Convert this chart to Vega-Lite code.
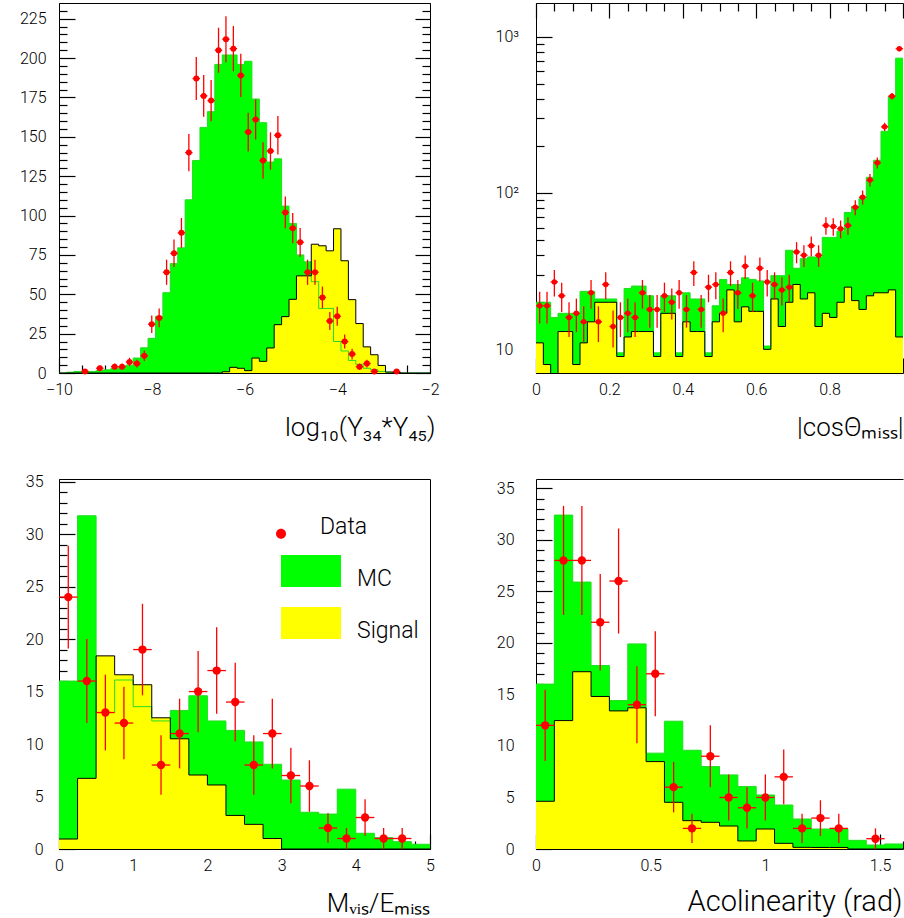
{
"$schema": "https://vega.github.io/schema/vega-lite/v6.json",
"padding": {"left": 18, "top": 2, "right": 0, "bottom": 0},
"background": "white",
"columns": 2,
"spacing": {"row": 106, "column": 106},
"bounds": "flush",
"resolve": {"scale": {"color": "independent", "shape": "independent"}, "legend": {"color": "independent", "shape": "independent"}},
"config": {
  "font": "Roboto",
  "view": {"stroke": "#000", "strokeWidth": 1},
  "axis": {"grid": false, "labelFont": "Roboto", "labelFontWeight": 300, "labelFontSize": 16, "labelColor": "#000", "tickColor": "#000", "tickWidth": 1.2, "domainColor": "#000", "domainWidth": 1, "labelFlush": false, "labelOverlap": false, "titleFont": "Roboto", "titleFontWeight": 300, "titleFontSize": 26, "titleColor": "#000", "titleAnchor": "end", "titlePadding": 10}
},
"datasets": {
  "p1h": [
    {"x": -10, "mc": 0, "sig": 0}, {"x": -9.84, "mc": 0.5, "sig": 0}, {"x": -9.68, "mc": 1, "sig": 0}, {"x": -9.52, "mc": 1, "sig": 0},
    {"x": -9.36, "mc": 1, "sig": 0}, {"x": -9.2, "mc": 1.5, "sig": 0}, {"x": -9.04, "mc": 2, "sig": 0}, {"x": -8.88, "mc": 3, "sig": 0},
    {"x": -8.72, "mc": 4, "sig": 0}, {"x": -8.56, "mc": 5, "sig": 0}, {"x": -8.4, "mc": 9.5, "sig": 0}, {"x": -8.24, "mc": 16, "sig": 0},
    {"x": -8.08, "mc": 22, "sig": 0}, {"x": -7.92, "mc": 36, "sig": 0}, {"x": -7.76, "mc": 51, "sig": 0}, {"x": -7.6, "mc": 69.5, "sig": 0},
    {"x": -7.44, "mc": 79.5, "sig": 0}, {"x": -7.28, "mc": 110, "sig": 0}, {"x": -7.12, "mc": 135, "sig": 0}, {"x": -6.96, "mc": 156, "sig": 0},
    {"x": -6.8, "mc": 166, "sig": 0}, {"x": -6.64, "mc": 196, "sig": 0}, {"x": -6.48, "mc": 202, "sig": 0.8}, {"x": -6.32, "mc": 202, "sig": 3.6},
    {"x": -6.16, "mc": 196, "sig": 3}, {"x": -6.0, "mc": 198, "sig": 1.5}, {"x": -5.84, "mc": 174, "sig": 9.5}, {"x": -5.68, "mc": 159, "sig": 7.4},
    {"x": -5.52, "mc": 134, "sig": 15.9}, {"x": -5.36, "mc": 136, "sig": 30.7}, {"x": -5.2, "mc": 106, "sig": 35.8}, {"x": -5.04, "mc": 95, "sig": 46.8},
    {"x": -4.88, "mc": 75, "sig": 61.7}, {"x": -4.72, "mc": 70.6, "sig": 61.7}, {"x": -4.56, "mc": 58, "sig": 81.8}, {"x": -4.4, "mc": 41, "sig": 80.8},
    {"x": -4.24, "mc": 41, "sig": 77.6}, {"x": -4.08, "mc": 20, "sig": 91.6}, {"x": -3.92, "mc": 14, "sig": 71.3}, {"x": -3.76, "mc": 8, "sig": 46.6},
    {"x": -3.6, "mc": 5.5, "sig": 31.4}, {"x": -3.44, "mc": 3, "sig": 16.6}, {"x": -3.28, "mc": 2, "sig": 11.6}, {"x": -3.12, "mc": 1, "sig": 4.8},
    {"x": -2.96, "mc": 0.5, "sig": 0.6}, {"x": -2.8, "mc": 0.3, "sig": 0.3}, {"x": -2.64, "mc": 0, "sig": 0}, {"x": -2.48, "mc": 0, "sig": 0},
    {"x": -2.32, "mc": 0, "sig": 0}, {"x": -2.16, "mc": 0, "sig": 0}, {"x": -2.0, "mc": 0, "sig": 0}
  ],
  "p1d": [
    {"c": -9.44, "lo": -9.52, "hi": -9.36, "v": 1, "elo": 0, "ehi": 2},
    {"c": -9.12, "lo": -9.2, "hi": -9.04, "v": 3, "elo": 1.27, "ehi": 4.73},
    {"c": -8.8, "lo": -8.88, "hi": -8.72, "v": 4, "elo": 2, "ehi": 6},
    {"c": -8.64, "lo": -8.72, "hi": -8.56, "v": 4, "elo": 2, "ehi": 6},
    {"c": -8.48, "lo": -8.56, "hi": -8.4, "v": 7, "elo": 4.35, "ehi": 9.65},
    {"c": -8.32, "lo": -8.4, "hi": -8.24, "v": 6, "elo": 3.55, "ehi": 8.45},
    {"c": -8.16, "lo": -8.24, "hi": -8.08, "v": 11, "elo": 7.68, "ehi": 14.32},
    {"c": -8.0, "lo": -8.08, "hi": -7.92, "v": 31, "elo": 25.43, "ehi": 36.57},
    {"c": -7.84, "lo": -7.92, "hi": -7.76, "v": 35, "elo": 29.08, "ehi": 40.92},
    {"c": -7.68, "lo": -7.76, "hi": -7.6, "v": 64, "elo": 56, "ehi": 72},
    {"c": -7.52, "lo": -7.6, "hi": -7.44, "v": 76, "elo": 67.28, "ehi": 84.72},
    {"c": -7.36, "lo": -7.44, "hi": -7.28, "v": 89, "elo": 79.57, "ehi": 98.43},
    {"c": -7.2, "lo": -7.28, "hi": -7.12, "v": 140, "elo": 128.17, "ehi": 151.83},
    {"c": -7.04, "lo": -7.12, "hi": -6.96, "v": 187, "elo": 173.33, "ehi": 200.67},
    {"c": -6.88, "lo": -6.96, "hi": -6.8, "v": 176, "elo": 162.73, "ehi": 189.27},
    {"c": -6.72, "lo": -6.8, "hi": -6.64, "v": 173, "elo": 159.85, "ehi": 186.15},
    {"c": -6.56, "lo": -6.64, "hi": -6.48, "v": 205, "elo": 190.68, "ehi": 219.32},
    {"c": -6.4, "lo": -6.48, "hi": -6.32, "v": 212, "elo": 197.44, "ehi": 226.56},
    {"c": -6.24, "lo": -6.32, "hi": -6.16, "v": 206, "elo": 191.65, "ehi": 220.35},
    {"c": -6.08, "lo": -6.16, "hi": -6.0, "v": 189, "elo": 175.25, "ehi": 202.75},
    {"c": -5.92, "lo": -6.0, "hi": -5.84, "v": 153, "elo": 140.63, "ehi": 165.37},
    {"c": -5.76, "lo": -5.84, "hi": -5.68, "v": 161, "elo": 148.31, "ehi": 173.69},
    {"c": -5.6, "lo": -5.68, "hi": -5.52, "v": 135, "elo": 123.38, "ehi": 146.62},
    {"c": -5.44, "lo": -5.52, "hi": -5.36, "v": 141, "elo": 129.13, "ehi": 152.87},
    {"c": -5.28, "lo": -5.36, "hi": -5.2, "v": 151, "elo": 138.71, "ehi": 163.29},
    {"c": -5.12, "lo": -5.2, "hi": -5.04, "v": 102, "elo": 91.9, "ehi": 112.1},
    {"c": -4.96, "lo": -5.04, "hi": -4.88, "v": 92, "elo": 82.41, "ehi": 101.59},
    {"c": -4.8, "lo": -4.88, "hi": -4.72, "v": 83, "elo": 73.89, "ehi": 92.11},
    {"c": -4.64, "lo": -4.72, "hi": -4.56, "v": 64, "elo": 56, "ehi": 72},
    {"c": -4.48, "lo": -4.56, "hi": -4.4, "v": 64, "elo": 56, "ehi": 72},
    {"c": -4.32, "lo": -4.4, "hi": -4.24, "v": 48, "elo": 41.07, "ehi": 54.93},
    {"c": -4.16, "lo": -4.24, "hi": -4.08, "v": 33, "elo": 27.26, "ehi": 38.74},
    {"c": -4.0, "lo": -4.08, "hi": -3.92, "v": 36, "elo": 30, "ehi": 42},
    {"c": -3.84, "lo": -3.92, "hi": -3.76, "v": 20, "elo": 15.53, "ehi": 24.47},
    {"c": -3.68, "lo": -3.76, "hi": -3.6, "v": 12, "elo": 8.54, "ehi": 15.46},
    {"c": -3.52, "lo": -3.6, "hi": -3.44, "v": 4, "elo": 2, "ehi": 6},
    {"c": -3.36, "lo": -3.44, "hi": -3.28, "v": 6, "elo": 3.55, "ehi": 8.45},
    {"c": -3.2, "lo": -3.28, "hi": -3.12, "v": 1, "elo": 0, "ehi": 2},
    {"c": -2.72, "lo": -2.8, "hi": -2.64, "v": 1, "elo": 0, "ehi": 2}
  ],
  "p2h": [
    {"x": 0, "mc": 20, "sig": 11}, {"x": 0.02, "mc": 20, "sig": 8}, {"x": 0.04, "mc": 16, "sig": 1}, {"x": 0.06, "mc": 17, "sig": 13},
    {"x": 0.08, "mc": 17, "sig": 13}, {"x": 0.1, "mc": 17, "sig": 8}, {"x": 0.12, "mc": 23.5, "sig": 11}, {"x": 0.14, "mc": 23.5, "sig": 15},
    {"x": 0.16, "mc": 21, "sig": 20}, {"x": 0.18, "mc": 21, "sig": 20}, {"x": 0.2, "mc": 21, "sig": 20}, {"x": 0.22, "mc": 9.5, "sig": 9},
    {"x": 0.24, "mc": 24.5, "sig": 12}, {"x": 0.26, "mc": 25.4, "sig": 13}, {"x": 0.28, "mc": 25.4, "sig": 13}, {"x": 0.3, "mc": 22, "sig": 13},
    {"x": 0.32, "mc": 9.5, "sig": 9}, {"x": 0.34, "mc": 22, "sig": 17}, {"x": 0.36, "mc": 22, "sig": 17}, {"x": 0.38, "mc": 9.5, "sig": 9},
    {"x": 0.4, "mc": 23, "sig": 15}, {"x": 0.42, "mc": 21, "sig": 13}, {"x": 0.44, "mc": 21, "sig": 13}, {"x": 0.46, "mc": 9.5, "sig": 9},
    {"x": 0.48, "mc": 19, "sig": 15}, {"x": 0.5, "mc": 28, "sig": 17}, {"x": 0.52, "mc": 26, "sig": 24}, {"x": 0.54, "mc": 26, "sig": 15},
    {"x": 0.56, "mc": 28.7, "sig": 18.7}, {"x": 0.58, "mc": 28, "sig": 17.5}, {"x": 0.6, "mc": 27.4, "sig": 17.5}, {"x": 0.62, "mc": 10.5, "sig": 10},
    {"x": 0.64, "mc": 29.6, "sig": 21}, {"x": 0.66, "mc": 29.6, "sig": 14}, {"x": 0.68, "mc": 43, "sig": 20}, {"x": 0.7, "mc": 33, "sig": 26},
    {"x": 0.72, "mc": 38, "sig": 21}, {"x": 0.74, "mc": 39, "sig": 23}, {"x": 0.76, "mc": 39, "sig": 14}, {"x": 0.78, "mc": 52, "sig": 17},
    {"x": 0.8, "mc": 52, "sig": 16}, {"x": 0.82, "mc": 57, "sig": 20}, {"x": 0.84, "mc": 75, "sig": 25}, {"x": 0.86, "mc": 82, "sig": 20.5},
    {"x": 0.88, "mc": 92, "sig": 18}, {"x": 0.9, "mc": 126, "sig": 22}, {"x": 0.92, "mc": 162, "sig": 23}, {"x": 0.94, "mc": 248, "sig": 23},
    {"x": 0.96, "mc": 416, "sig": 24}, {"x": 0.98, "mc": 728, "sig": 12}, {"x": 1.0, "mc": 728, "sig": 12}
  ],
  "p2d": [
    {"c": 0.01, "lo": 0, "hi": 0.02, "v": 19, "elo": 14.64, "ehi": 23.36},
    {"c": 0.03, "lo": 0.02, "hi": 0.04, "v": 19, "elo": 14.64, "ehi": 23.36},
    {"c": 0.05, "lo": 0.04, "hi": 0.06, "v": 27, "elo": 21.8, "ehi": 32.2},
    {"c": 0.07, "lo": 0.06, "hi": 0.08, "v": 22, "elo": 17.31, "ehi": 26.69},
    {"c": 0.09, "lo": 0.08, "hi": 0.1, "v": 16, "elo": 12, "ehi": 20},
    {"c": 0.11, "lo": 0.1, "hi": 0.12, "v": 17, "elo": 12.88, "ehi": 21.12},
    {"c": 0.13, "lo": 0.12, "hi": 0.14, "v": 15, "elo": 11.13, "ehi": 18.87},
    {"c": 0.15, "lo": 0.14, "hi": 0.16, "v": 23, "elo": 18.2, "ehi": 27.8},
    {"c": 0.17, "lo": 0.16, "hi": 0.18, "v": 15, "elo": 11.13, "ehi": 18.87},
    {"c": 0.19, "lo": 0.18, "hi": 0.2, "v": 26, "elo": 20.9, "ehi": 31.1},
    {"c": 0.21, "lo": 0.2, "hi": 0.22, "v": 14, "elo": 10.26, "ehi": 17.74},
    {"c": 0.23, "lo": 0.22, "hi": 0.24, "v": 16, "elo": 12, "ehi": 20},
    {"c": 0.25, "lo": 0.24, "hi": 0.26, "v": 17, "elo": 12.88, "ehi": 21.12},
    {"c": 0.27, "lo": 0.26, "hi": 0.28, "v": 16, "elo": 12, "ehi": 20},
    {"c": 0.29, "lo": 0.28, "hi": 0.3, "v": 23, "elo": 18.2, "ehi": 27.8},
    {"c": 0.31, "lo": 0.3, "hi": 0.32, "v": 18, "elo": 13.76, "ehi": 22.24},
    {"c": 0.33, "lo": 0.32, "hi": 0.34, "v": 18, "elo": 13.76, "ehi": 22.24},
    {"c": 0.35, "lo": 0.34, "hi": 0.36, "v": 22, "elo": 17.31, "ehi": 26.69},
    {"c": 0.37, "lo": 0.36, "hi": 0.38, "v": 20, "elo": 15.53, "ehi": 24.47},
    {"c": 0.39, "lo": 0.38, "hi": 0.4, "v": 23, "elo": 18.2, "ehi": 27.8},
    {"c": 0.41, "lo": 0.4, "hi": 0.42, "v": 18, "elo": 13.76, "ehi": 22.24},
    {"c": 0.43, "lo": 0.42, "hi": 0.44, "v": 31, "elo": 25.43, "ehi": 36.57},
    {"c": 0.45, "lo": 0.44, "hi": 0.46, "v": 18, "elo": 13.76, "ehi": 22.24},
    {"c": 0.47, "lo": 0.46, "hi": 0.48, "v": 25, "elo": 20, "ehi": 30},
    {"c": 0.49, "lo": 0.48, "hi": 0.5, "v": 26, "elo": 20.9, "ehi": 31.1},
    {"c": 0.51, "lo": 0.5, "hi": 0.52, "v": 17, "elo": 12.88, "ehi": 21.12},
    {"c": 0.53, "lo": 0.52, "hi": 0.54, "v": 31, "elo": 25.43, "ehi": 36.57},
    {"c": 0.55, "lo": 0.54, "hi": 0.56, "v": 23, "elo": 18.2, "ehi": 27.8},
    {"c": 0.57, "lo": 0.56, "hi": 0.58, "v": 34, "elo": 28.17, "ehi": 39.83},
    {"c": 0.59, "lo": 0.58, "hi": 0.6, "v": 22, "elo": 17.31, "ehi": 26.69},
    {"c": 0.61, "lo": 0.6, "hi": 0.62, "v": 33, "elo": 27.26, "ehi": 38.74},
    {"c": 0.63, "lo": 0.62, "hi": 0.64, "v": 27, "elo": 21.8, "ehi": 32.2},
    {"c": 0.65, "lo": 0.64, "hi": 0.66, "v": 26, "elo": 20.9, "ehi": 31.1},
    {"c": 0.67, "lo": 0.66, "hi": 0.68, "v": 24, "elo": 19.1, "ehi": 28.9},
    {"c": 0.69, "lo": 0.68, "hi": 0.7, "v": 25, "elo": 20, "ehi": 30},
    {"c": 0.71, "lo": 0.7, "hi": 0.72, "v": 42, "elo": 35.52, "ehi": 48.48},
    {"c": 0.73, "lo": 0.72, "hi": 0.74, "v": 40, "elo": 33.68, "ehi": 46.32},
    {"c": 0.75, "lo": 0.74, "hi": 0.76, "v": 46, "elo": 39.22, "ehi": 52.78},
    {"c": 0.77, "lo": 0.76, "hi": 0.78, "v": 40, "elo": 33.68, "ehi": 46.32},
    {"c": 0.79, "lo": 0.78, "hi": 0.8, "v": 62, "elo": 54.13, "ehi": 69.87},
    {"c": 0.81, "lo": 0.8, "hi": 0.82, "v": 61, "elo": 53.19, "ehi": 68.81},
    {"c": 0.83, "lo": 0.82, "hi": 0.84, "v": 59, "elo": 51.32, "ehi": 66.68},
    {"c": 0.85, "lo": 0.84, "hi": 0.86, "v": 62, "elo": 54.13, "ehi": 69.87},
    {"c": 0.87, "lo": 0.86, "hi": 0.88, "v": 81, "elo": 72, "ehi": 90},
    {"c": 0.89, "lo": 0.88, "hi": 0.9, "v": 94, "elo": 84.3, "ehi": 103.7},
    {"c": 0.91, "lo": 0.9, "hi": 0.92, "v": 121, "elo": 110, "ehi": 132},
    {"c": 0.93, "lo": 0.92, "hi": 0.94, "v": 156, "elo": 143.51, "ehi": 168.49},
    {"c": 0.95, "lo": 0.94, "hi": 0.96, "v": 265, "elo": 248.72, "ehi": 281.28},
    {"c": 0.97, "lo": 0.96, "hi": 0.98, "v": 416, "elo": 395.6, "ehi": 436.4},
    {"c": 0.99, "lo": 0.98, "hi": 1.0, "v": 836, "elo": 807.09, "ehi": 864.91}
  ],
  "p3h": [
    {"x": 0, "mc": 16, "sig": 0.95}, {"x": 0.25, "mc": 31.75, "sig": 6.73}, {"x": 0.5, "mc": 13, "sig": 18.4}, {"x": 0.75, "mc": 16.1, "sig": 16.6},
    {"x": 1.0, "mc": 13.56, "sig": 15.65}, {"x": 1.25, "mc": 12.2, "sig": 12.5}, {"x": 1.5, "mc": 13.2, "sig": 10.5}, {"x": 1.75, "mc": 14.6, "sig": 7.05},
    {"x": 2.0, "mc": 12.2, "sig": 6.1}, {"x": 2.25, "mc": 11.3, "sig": 3.2}, {"x": 2.5, "mc": 10.2, "sig": 2.35}, {"x": 2.75, "mc": 8.07, "sig": 1.0},
    {"x": 3.0, "mc": 6.57, "sig": 0}, {"x": 3.25, "mc": 3.5, "sig": 0}, {"x": 3.5, "mc": 3.33, "sig": 0}, {"x": 3.75, "mc": 5.7, "sig": 0},
    {"x": 4.0, "mc": 1.5, "sig": 0}, {"x": 4.25, "mc": 1.08, "sig": 0}, {"x": 4.5, "mc": 0.7, "sig": 0}, {"x": 4.75, "mc": 0.45, "sig": 0},
    {"x": 5.0, "mc": 0.45, "sig": 0}
  ],
  "p3d": [
    {"c": 0.125, "lo": 0, "hi": 0.25, "v": 24, "elo": 19.1, "ehi": 28.9},
    {"c": 0.375, "lo": 0.25, "hi": 0.5, "v": 16, "elo": 12, "ehi": 20},
    {"c": 0.625, "lo": 0.5, "hi": 0.75, "v": 13, "elo": 9.39, "ehi": 16.61},
    {"c": 0.875, "lo": 0.75, "hi": 1.0, "v": 12, "elo": 8.54, "ehi": 15.46},
    {"c": 1.125, "lo": 1.0, "hi": 1.25, "v": 19, "elo": 14.64, "ehi": 23.36},
    {"c": 1.375, "lo": 1.25, "hi": 1.5, "v": 8, "elo": 5.17, "ehi": 10.83},
    {"c": 1.625, "lo": 1.5, "hi": 1.75, "v": 11, "elo": 7.68, "ehi": 14.32},
    {"c": 1.875, "lo": 1.75, "hi": 2.0, "v": 15, "elo": 11.13, "ehi": 18.87},
    {"c": 2.125, "lo": 2.0, "hi": 2.25, "v": 17, "elo": 12.88, "ehi": 21.12},
    {"c": 2.375, "lo": 2.25, "hi": 2.5, "v": 14, "elo": 10.26, "ehi": 17.74},
    {"c": 2.625, "lo": 2.5, "hi": 2.75, "v": 8, "elo": 5.17, "ehi": 10.83},
    {"c": 2.875, "lo": 2.75, "hi": 3.0, "v": 11, "elo": 7.68, "ehi": 14.32},
    {"c": 3.125, "lo": 3.0, "hi": 3.25, "v": 7, "elo": 4.35, "ehi": 9.65},
    {"c": 3.375, "lo": 3.25, "hi": 3.5, "v": 6, "elo": 3.55, "ehi": 8.45},
    {"c": 3.625, "lo": 3.5, "hi": 3.75, "v": 2, "elo": 0.59, "ehi": 3.41},
    {"c": 3.875, "lo": 3.75, "hi": 4.0, "v": 1, "elo": 0, "ehi": 2},
    {"c": 4.125, "lo": 4.0, "hi": 4.25, "v": 3, "elo": 1.27, "ehi": 4.73},
    {"c": 4.375, "lo": 4.25, "hi": 4.5, "v": 1, "elo": 0, "ehi": 2},
    {"c": 4.625, "lo": 4.5, "hi": 4.75, "v": 1, "elo": 0, "ehi": 2}
  ],
  "p4h": [
    {"x": 0, "mc": 16, "sig": 4.63}, {"x": 0.08, "mc": 32.4, "sig": 12.46}, {"x": 0.16, "mc": 25.9, "sig": 17.2}, {"x": 0.24, "mc": 17.8, "sig": 14.8},
    {"x": 0.32, "mc": 14.4, "sig": 13.4}, {"x": 0.4, "mc": 19.9, "sig": 13.7}, {"x": 0.48, "mc": 9.3, "sig": 8.48}, {"x": 0.56, "mc": 12.4, "sig": 4.53},
    {"x": 0.64, "mc": 9.58, "sig": 2.75}, {"x": 0.72, "mc": 8.0, "sig": 2.59}, {"x": 0.8, "mc": 7.19, "sig": 2.23}, {"x": 0.88, "mc": 6.06, "sig": 0.78},
    {"x": 0.96, "mc": 5.24, "sig": 1.94}, {"x": 1.04, "mc": 4.27, "sig": 0.55}, {"x": 1.12, "mc": 2.91, "sig": 0.16}, {"x": 1.2, "mc": 1.94, "sig": 0.15},
    {"x": 1.28, "mc": 1.94, "sig": 0.15}, {"x": 1.36, "mc": 0.84, "sig": 0}, {"x": 1.44, "mc": 0.39, "sig": 0}, {"x": 1.52, "mc": 0.49, "sig": 0},
    {"x": 1.6, "mc": 0.49, "sig": 0}
  ],
  "p4d": [
    {"c": 0.04, "lo": 0, "hi": 0.08, "v": 12, "elo": 8.54, "ehi": 15.46},
    {"c": 0.12, "lo": 0.08, "hi": 0.16, "v": 28, "elo": 22.71, "ehi": 33.29},
    {"c": 0.2, "lo": 0.16, "hi": 0.24, "v": 28, "elo": 22.71, "ehi": 33.29},
    {"c": 0.28, "lo": 0.24, "hi": 0.32, "v": 22, "elo": 17.31, "ehi": 26.69},
    {"c": 0.36, "lo": 0.32, "hi": 0.4, "v": 26, "elo": 20.9, "ehi": 31.1},
    {"c": 0.44, "lo": 0.4, "hi": 0.48, "v": 14, "elo": 10.26, "ehi": 17.74},
    {"c": 0.52, "lo": 0.48, "hi": 0.56, "v": 17, "elo": 12.88, "ehi": 21.12},
    {"c": 0.6, "lo": 0.56, "hi": 0.64, "v": 6, "elo": 3.55, "ehi": 8.45},
    {"c": 0.68, "lo": 0.64, "hi": 0.72, "v": 2, "elo": 0.59, "ehi": 3.41},
    {"c": 0.76, "lo": 0.72, "hi": 0.8, "v": 9, "elo": 6, "ehi": 12},
    {"c": 0.84, "lo": 0.8, "hi": 0.88, "v": 5, "elo": 2.76, "ehi": 7.24},
    {"c": 0.92, "lo": 0.88, "hi": 0.96, "v": 4, "elo": 2, "ehi": 6},
    {"c": 1.0, "lo": 0.96, "hi": 1.04, "v": 5, "elo": 2.76, "ehi": 7.24},
    {"c": 1.08, "lo": 1.04, "hi": 1.12, "v": 7, "elo": 4.35, "ehi": 9.65},
    {"c": 1.16, "lo": 1.12, "hi": 1.2, "v": 2, "elo": 0.59, "ehi": 3.41},
    {"c": 1.24, "lo": 1.2, "hi": 1.28, "v": 3, "elo": 1.27, "ehi": 4.73},
    {"c": 1.32, "lo": 1.28, "hi": 1.36, "v": 2, "elo": 0.59, "ehi": 3.41},
    {"c": 1.48, "lo": 1.44, "hi": 1.52, "v": 1, "elo": 0, "ehi": 2}
  ]
},
"concat": [
  {
    "width": 371, "height": 370,
    "layer": [
      {"data": {"name": "p1h"}, "mark": {"type": "area", "interpolate": "step-after", "color": "#00ff00", "clip": true},
       "encoding": {
         "x": {"field": "x", "type": "quantitative", "scale": {"domain": [-10, -2], "nice": false, "zero": false},
               "axis": {"orient": "bottom", "values": [-10, -9.5, -9, -8.5, -8, -7.5, -7, -6.5, -6, -5.5, -5, -4.5, -4, -3.5, -3, -2.5, -2],
                        "tickSize": {"condition": {"test": "datum.value % 2 === 0", "value": -15}, "value": -8},
                        "labelExpr": "datum.value % 2 === 0 ? format(datum.value, '~g') : ''", "labelPadding": 23, "title": "log₁₀(Y₃₄*Y₄₅)", "titleX": 376, "titleAlign": "right"}},
         "y": {"field": "mc", "type": "quantitative", "scale": {"domain": [0, 235], "nice": false},
               "axis": {"orient": "left", "values": [0,5,10,15,20,25,30,35,40,45,50,55,60,65,70,75,80,85,90,95,100,105,110,115,120,125,130,135,140,145,150,155,160,165,170,175,180,185,190,195,200,205,210,215,220,225,230],
                        "tickSize": {"condition": {"test": "datum.value % 25 === 0", "value": -16}, "value": -8},
                        "labelExpr": "datum.value % 25 === 0 ? format(datum.value, '~g') : ''", "labelPadding": 29, "title": null}}
       }},
      {"data": {"name": "p1h"}, "mark": {"type": "area", "interpolate": "step-after", "color": "#ffff00", "clip": true},
       "encoding": {
         "x": {"field": "x", "type": "quantitative", "axis": null},
         "y": {"field": "sig", "type": "quantitative",
               "axis": {"orient": "right", "values": [0,5,10,15,20,25,30,35,40,45,50,55,60,65,70,75,80,85,90,95,100,105,110,115,120,125,130,135,140,145,150,155,160,165,170,175,180,185,190,195,200,205,210,215,220,225,230],
                        "tickSize": {"condition": {"test": "datum.value % 25 === 0", "value": -15}, "value": -8},
                        "labels": false, "title": null}}
       }},
      {"data": {"name": "p1h"}, "mark": {"type": "line", "interpolate": "step-after", "color": "#22dd22", "strokeWidth": 1, "clip": true},
       "encoding": {"x": {"field": "x", "type": "quantitative", "axis": null}, "y": {"field": "mc", "type": "quantitative", "axis": null}}},
      {"data": {"name": "p1h"}, "mark": {"type": "line", "interpolate": "step-after", "color": "#000000", "strokeWidth": 1, "clip": true},
       "encoding": {"x": {"field": "x", "type": "quantitative", "axis": null}, "y": {"field": "sig", "type": "quantitative", "axis": null}}},
      {"data": {"name": "p1d"}, "mark": {"type": "rule", "color": "#ff0000", "strokeWidth": 1.3},
       "encoding": {"x": {"field": "c", "type": "quantitative", "axis": null}, "y": {"field": "elo", "type": "quantitative", "axis": null}, "y2": {"field": "ehi"}}},
      {"data": {"name": "p1d"}, "mark": {"type": "rule", "color": "#ff0000", "strokeWidth": 1.3},
       "encoding": {"x": {"field": "lo", "type": "quantitative", "axis": null}, "x2": {"field": "hi"}, "y": {"field": "v", "type": "quantitative", "axis": null}}},
      {"data": {"name": "p1d"}, "mark": {"type": "point", "shape": "circle", "filled": true, "color": "#ff0000", "opacity": 1, "size": 36},
       "encoding": {"x": {"field": "c", "type": "quantitative", "axis": null}, "y": {"field": "v", "type": "quantitative", "axis": null}}}
    ],
    "resolve": {"axis": {"x": "independent", "y": "independent"}}
  },
  {
    "width": 367, "height": 370,
    "view": {"stroke": null},
    "layer": [
      {"data": {"name": "p2h"}, "mark": {"type": "area", "interpolate": "step-after", "color": "#00ff00", "clip": true},
       "encoding": {
         "x": {"field": "x", "type": "quantitative", "scale": {"domain": [0, 1], "nice": false, "zero": false},
               "axis": {"orient": "bottom", "values": [0,0.05,0.1,0.15,0.2,0.25,0.3,0.35,0.4,0.45,0.5,0.55,0.6,0.65,0.7,0.75,0.8,0.85,0.9,0.95,1],
                        "tickSize": {"condition": {"test": "abs(datum.value*5 - round(datum.value*5)) < 0.001", "value": -15}, "value": -8},
                        "labelExpr": "abs(datum.value*5 - round(datum.value*5)) < 0.001 && datum.value < 0.99 ? format(datum.value, '~g') : ''", "labelPadding": 23, "title": "|cosΘₘᵢₛₛ|"}},
         "y": {"field": "mc", "type": "quantitative", "scale": {"type": "log", "domain": [7.06, 1640], "nice": false},
               "axis": {"orient": "left", "values": [8,9,10,20,30,40,50,60,70,80,90,100,200,300,400,500,600,700,800,900,1000],
                        "tickSize": {"condition": {"test": "datum.value === 10 || datum.value === 100 || datum.value === 1000", "value": -16}, "value": -8},
                        "labelExpr": "datum.value === 10 ? '10' : datum.value === 100 ? '10²' : datum.value === 1000 ? '10³' : ''", "labelAlign": "left", "labelPadding": 57, "title": null}},
         "y2": {"datum": 1}
       }},
      {"data": {"name": "p2h"}, "mark": {"type": "area", "interpolate": "step-after", "color": "#ffff00", "clip": true},
       "encoding": {
         "x": {"field": "x", "type": "quantitative",
               "axis": {"orient": "top", "values": [0,0.05,0.1,0.15,0.2,0.25,0.3,0.35,0.4,0.45,0.5,0.55,0.6,0.65,0.7,0.75,0.8,0.85,0.9,0.95,1],
                        "tickSize": {"condition": {"test": "abs(datum.value*5 - round(datum.value*5)) < 0.001", "value": -15}, "value": -8},
                        "labels": false, "title": null}},
         "y": {"field": "sig", "type": "quantitative", "axis": null},
         "y2": {"datum": 1}
       }},
      {"data": {"name": "p2h"}, "mark": {"type": "line", "interpolate": "step-after", "color": "#22dd22", "strokeWidth": 1, "clip": true},
       "encoding": {"x": {"field": "x", "type": "quantitative", "axis": null}, "y": {"field": "mc", "type": "quantitative", "axis": null}}},
      {"data": {"name": "p2h"}, "mark": {"type": "line", "interpolate": "step-after", "color": "#000000", "strokeWidth": 1, "clip": true},
       "encoding": {"x": {"field": "x", "type": "quantitative", "axis": null}, "y": {"field": "sig", "type": "quantitative", "axis": null}}},
      {"data": {"name": "p2d"}, "mark": {"type": "rule", "color": "#ff0000", "strokeWidth": 1.3},
       "encoding": {"x": {"field": "c", "type": "quantitative", "axis": null}, "y": {"field": "elo", "type": "quantitative", "axis": null}, "y2": {"field": "ehi"}}},
      {"data": {"name": "p2d"}, "mark": {"type": "rule", "color": "#ff0000", "strokeWidth": 1.3},
       "encoding": {"x": {"field": "lo", "type": "quantitative", "axis": null}, "x2": {"field": "hi"}, "y": {"field": "v", "type": "quantitative", "axis": null}}},
      {"data": {"name": "p2d"}, "mark": {"type": "point", "shape": "circle", "filled": true, "color": "#ff0000", "opacity": 1, "size": 30},
       "encoding": {"x": {"field": "c", "type": "quantitative", "axis": null}, "y": {"field": "v", "type": "quantitative", "axis": null}}}
    ],
    "resolve": {"axis": {"x": "independent", "y": "independent"}}
  },
  {
    "width": 371, "height": 370,
    "layer": [
      {"data": {"name": "p3h"}, "mark": {"type": "area", "interpolate": "step-after", "color": "#00ff00", "clip": true},
       "encoding": {
         "x": {"field": "x", "type": "quantitative", "scale": {"domain": [0, 5], "nice": false, "zero": false},
               "axis": {"orient": "bottom", "values": [0,0.2,0.4,0.6,0.8,1,1.2,1.4,1.6,1.8,2,2.2,2.4,2.6,2.8,3,3.2,3.4,3.6,3.8,4,4.2,4.4,4.6,4.8,5],
                        "tickSize": {"condition": {"test": "abs(datum.value - round(datum.value)) < 0.001", "value": -15}, "value": -8},
                        "labelExpr": "abs(datum.value - round(datum.value)) < 0.001 ? format(datum.value, '~g') : ''", "labelPadding": 23, "title": "Mᵥᵢₛ/Eₘᵢₛₛ"}},
         "y": {"field": "mc", "type": "quantitative", "scale": {"domain": [0, 35.25], "nice": false},
               "axis": {"orient": "left", "values": [0,1,2,3,4,5,6,7,8,9,10,11,12,13,14,15,16,17,18,19,20,21,22,23,24,25,26,27,28,29,30,31,32,33,34,35],
                        "tickSize": {"condition": {"test": "datum.value % 5 === 0", "value": -16}, "value": -8},
                        "labelExpr": "datum.value % 5 === 0 ? format(datum.value, '~g') : ''", "labelPadding": 32, "title": null}}
       }},
      {"data": {"name": "p3h"}, "mark": {"type": "area", "interpolate": "step-after", "color": "#ffff00", "clip": true},
       "encoding": {"x": {"field": "x", "type": "quantitative", "axis": null}, "y": {"field": "sig", "type": "quantitative", "axis": null}}},
      {"data": {"name": "p3h"}, "mark": {"type": "line", "interpolate": "step-after", "color": "#22dd22", "strokeWidth": 1, "clip": true},
       "encoding": {"x": {"field": "x", "type": "quantitative", "axis": null}, "y": {"field": "mc", "type": "quantitative", "axis": null}}},
      {"data": {"name": "p3h"}, "mark": {"type": "line", "interpolate": "step-after", "color": "#000000", "strokeWidth": 1, "clip": true},
       "encoding": {"x": {"field": "x", "type": "quantitative", "axis": null}, "y": {"field": "sig", "type": "quantitative", "axis": null}}},
      {"data": {"name": "p3d"}, "mark": {"type": "rule", "color": "#ff0000", "strokeWidth": 1.3},
       "encoding": {"x": {"field": "c", "type": "quantitative", "axis": null}, "y": {"field": "elo", "type": "quantitative", "axis": null}, "y2": {"field": "ehi"}}},
      {"data": {"name": "p3d"}, "mark": {"type": "rule", "color": "#ff0000", "strokeWidth": 1.3},
       "encoding": {"x": {"field": "lo", "type": "quantitative", "axis": null}, "x2": {"field": "hi"}, "y": {"field": "v", "type": "quantitative", "axis": null}}},
      {"data": {"name": "p3d"}, "mark": {"type": "point", "shape": "circle", "filled": true, "color": "#ff0000", "opacity": 1, "size": 70},
       "encoding": {"x": {"field": "c", "type": "quantitative", "axis": null}, "y": {"field": "v", "type": "quantitative", "axis": null}}},
      {"data": {"name": "p3d"}, "transform": [{"filter": "false"}], "mark": {"type": "point", "filled": true, "opacity": 1},
       "encoding": {
         "color": {"field": "series", "type": "nominal", "scale": {"domain": ["Data", "MC", "Signal"], "range": ["#ff0000", "#00ff00", "#ffff00"]},
                   "legend": {"orient": "none", "legendX": 232, "legendY": 20, "title": null, "symbolSize": 1600, "symbolStrokeWidth": 0, "symbolOpacity": 1,
                              "labelFontSize": 23, "labelFont": "Roboto", "labelFontWeight": 300, "labelColor": "#000", "labelOffset": 26, "rowPadding": 12, "padding": 0, "symbolOffset": 0,
                              "encode": {"labels": {"update": {"dy": {"value": 7.7}, "dx": {"signal": "datum.value === 'Data' ? -37 : 0"}}}}}},
         "shape": {"field": "series", "type": "nominal", "scale": {"domain": ["Data", "MC", "Signal"], "range": ["M-1.75,0.735A0.25,0.25,0,1,0,-1.25,0.735A0.25,0.25,0,1,0,-1.75,0.735Z", "M-1.5,-0.8H1.5V0.8H-1.5Z", "M-1.5,-0.8H1.5V0.8H-1.5Z"]},
                   "legend": {"orient": "none", "legendX": 232, "legendY": 20, "title": null, "symbolSize": 1600, "symbolStrokeWidth": 0, "symbolOpacity": 1,
                              "labelFontSize": 23, "labelFont": "Roboto", "labelFontWeight": 300, "labelColor": "#000", "labelOffset": 26, "rowPadding": 12, "padding": 0, "symbolOffset": 0,
                              "encode": {"labels": {"update": {"dy": {"value": 7.7}, "dx": {"signal": "datum.value === 'Data' ? -37 : 0"}}}}}}
       }}
    ],
    "resolve": {"axis": {"x": "independent", "y": "independent"}}
  },
  {
    "width": 367, "height": 370,
    "view": {"stroke": null},
    "layer": [
      {"data": {"name": "p4h"}, "mark": {"type": "area", "interpolate": "step-after", "color": "#00ff00", "clip": true},
       "encoding": {
         "x": {"field": "x", "type": "quantitative", "scale": {"domain": [0, 1.6], "nice": false, "zero": false},
               "axis": {"orient": "bottom", "values": [0,0.1,0.2,0.3,0.4,0.5,0.6,0.7,0.8,0.9,1,1.1,1.2,1.3,1.4,1.5,1.6],
                        "tickSize": {"condition": {"test": "abs(datum.value*2 - round(datum.value*2)) < 0.001", "value": -15}, "value": -8},
                        "labelExpr": "abs(datum.value*2 - round(datum.value*2)) < 0.001 && datum.value < 1.55 ? format(datum.value, '~g') : ''", "labelPadding": 23, "title": "Acolinearity (rad)", "titleFontSize": 29, "titleX": 366, "titleAlign": "right", "titlePadding": 7}},
         "y": {"field": "mc", "type": "quantitative", "scale": {"domain": [0, 35.9], "nice": false},
               "axis": {"orient": "left", "values": [0,1,2,3,4,5,6,7,8,9,10,11,12,13,14,15,16,17,18,19,20,21,22,23,24,25,26,27,28,29,30,31,32,33,34,35],
                        "tickSize": {"condition": {"test": "datum.value % 5 === 0", "value": -16}, "value": -8},
                        "labelExpr": "datum.value % 5 === 0 ? format(datum.value, '~g') : ''", "labelPadding": 38, "title": null}}
       }},
      {"data": {"name": "p4h"}, "mark": {"type": "area", "interpolate": "step-after", "color": "#ffff00", "clip": true},
       "encoding": {"x": {"field": "x", "type": "quantitative", "axis": {"orient": "top", "ticks": false, "labels": false, "title": null}}, "y": {"field": "sig", "type": "quantitative", "axis": null}}},
      {"data": {"name": "p4h"}, "mark": {"type": "line", "interpolate": "step-after", "color": "#22dd22", "strokeWidth": 1, "clip": true},
       "encoding": {"x": {"field": "x", "type": "quantitative", "axis": null}, "y": {"field": "mc", "type": "quantitative", "axis": null}}},
      {"data": {"name": "p4h"}, "mark": {"type": "line", "interpolate": "step-after", "color": "#000000", "strokeWidth": 1, "clip": true},
       "encoding": {"x": {"field": "x", "type": "quantitative", "axis": null}, "y": {"field": "sig", "type": "quantitative", "axis": null}}},
      {"data": {"name": "p4d"}, "mark": {"type": "rule", "color": "#ff0000", "strokeWidth": 1.3},
       "encoding": {"x": {"field": "c", "type": "quantitative", "axis": null}, "y": {"field": "elo", "type": "quantitative", "axis": null}, "y2": {"field": "ehi"}}},
      {"data": {"name": "p4d"}, "mark": {"type": "rule", "color": "#ff0000", "strokeWidth": 1.3},
       "encoding": {"x": {"field": "lo", "type": "quantitative", "axis": null}, "x2": {"field": "hi"}, "y": {"field": "v", "type": "quantitative", "axis": null}}},
      {"data": {"name": "p4d"}, "mark": {"type": "point", "shape": "circle", "filled": true, "color": "#ff0000", "opacity": 1, "size": 70},
       "encoding": {"x": {"field": "c", "type": "quantitative", "axis": null}, "y": {"field": "v", "type": "quantitative", "axis": null}}}
    ],
    "resolve": {"axis": {"x": "independent", "y": "independent"}}
  }
]
}
